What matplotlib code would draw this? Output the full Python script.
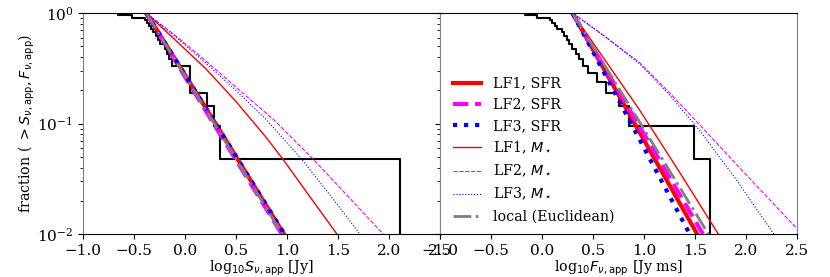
import numpy as np
import matplotlib
matplotlib.use('Agg')
import matplotlib.pyplot as plt

plt.rcParams['font.family'] = 'DejaVu Serif'
plt.rcParams['mathtext.fontset'] = 'dejavusans'
plt.rcParams['font.size'] = 10.3
plt.rcParams['xtick.labelsize'] = 11
plt.rcParams['ytick.labelsize'] = 11

# observed samples (log10 of apparent flux / fluence), 21 bursts each
obs_S = [-0.654, -0.523, -0.39, -0.37, -0.35, -0.33, -0.31, -0.28, -0.265, -0.24,
         -0.20, -0.18, -0.16, -0.13, 0.049, 0.049, 0.049, 0.213, 0.284, 0.343, 2.108]
obs_F = [-0.167, -0.05, 0.08, 0.10, 0.13, 0.15, 0.20, 0.22, 0.25, 0.27,
         0.30, 0.33, 0.36, 0.40, 0.45, 0.54, 0.63, 0.755, 0.85, 1.49, 1.65]

# model curves, left panel: x = log10 S, y = log10 fraction
S_lf1_sfr_x = [-0.38, 0.3, 0.97]
S_lf1_sfr_y = [0.0, -1.0, -2.0]
S_lf2_sfr_x = [-0.38, 0.28, 0.95]
S_lf2_sfr_y = [0.0, -1.0, -2.0]
S_lf3_sfr_x = [-0.38, 0.3, 0.975]
S_lf3_sfr_y = [0.0, -1.0, -2.0]
S_lf1_ms_x = [-0.38, -0.1, 0.2, 0.5, 0.8, 0.96, 1.2, 1.49]
S_lf1_ms_y = [0.0, -0.24, -0.5, -0.8, -1.13, -1.322, -1.63, -2.0]
S_lf2_ms_x = [-0.38, -0.1, 0.2, 0.5, 0.873, 1.258, 1.6, 1.944]
S_lf2_ms_y = [0.0, -0.2, -0.43, -0.67, -0.968, -1.322, -1.66, -2.0]
S_lf3_ms_x = [-0.38, -0.1, 0.2, 0.5, 0.8, 1.144, 1.45, 1.716]
S_lf3_ms_y = [0.0, -0.21, -0.45, -0.70, -0.968, -1.322, -1.68, -2.0]
S_local_x = [-0.38, 0.287, 0.953]
S_local_y = [0.0, -1.0, -2.0]

# model curves, right panel: x = log10 F, y = log10 fraction
F_lf1_sfr_x = [0.3, 0.91, 1.523]
F_lf1_sfr_y = [0.0, -1.0, -2.0]
F_lf2_sfr_x = [0.3, 0.94, 1.58]
F_lf2_sfr_y = [0.0, -1.0, -2.0]
F_lf3_sfr_x = [0.3, 0.875, 1.45]
F_lf3_sfr_y = [0.0, -1.0, -2.0]
F_lf1_ms_x = [0.3, 0.96, 1.35, 1.73]
F_lf1_ms_y = [0.0, -0.88, -1.44, -2.0]
F_lf2_ms_x = [0.3, 0.6, 0.96, 1.25, 1.549, 2.0, 2.5]
F_lf2_ms_y = [0.0, -0.2, -0.45, -0.72, -1.013, -1.46, -1.95]
F_lf3_ms_x = [0.3, 0.6, 0.96, 1.25, 1.549, 1.9, 2.275]
F_lf3_ms_y = [0.0, -0.2, -0.46, -0.74, -1.065, -1.5, -2.0]
F_local_x = [0.3, 0.967, 1.633]
F_local_y = [0.0, -1.0, -2.0]

labels = ['LF1, SFR', 'LF2, SFR', 'LF3, SFR',
          r'LF1, $M_\star$', r'LF2, $M_\star$', r'LF3, $M_\star$',
          'local (Euclidean)']
styles = [dict(color='red', ls='-', lw=3),
          dict(color='magenta', ls='--', lw=3),
          dict(color='blue', ls=':', lw=3),
          dict(color='red', ls='-', lw=1),
          dict(color='magenta', ls='--', lw=0.8),
          dict(color='blue', ls=':', lw=0.8),
          dict(color='gray', ls='-.', lw=2)]


def survival(vals):
    vals = np.sort(vals)
    n = len(vals)
    levels = np.arange(n, -1, -1) / n
    xs = np.repeat(vals, 2)
    ys = np.repeat(levels, 2)[1:-1].copy()
    ys[-1] = 1e-4
    return xs, ys


fig, (ax1, ax2) = plt.subplots(1, 2, figsize=(8.3, 2.77), dpi=100, sharey=True)
fig.subplots_adjust(left=0.1, right=0.96, bottom=0.155, top=0.953, wspace=0)

left_curves = [(S_lf1_sfr_x, S_lf1_sfr_y), (S_lf2_sfr_x, S_lf2_sfr_y), (S_lf3_sfr_x, S_lf3_sfr_y),
               (S_lf1_ms_x, S_lf1_ms_y), (S_lf2_ms_x, S_lf2_ms_y), (S_lf3_ms_x, S_lf3_ms_y),
               (S_local_x, S_local_y)]
right_curves = [(F_lf1_sfr_x, F_lf1_sfr_y), (F_lf2_sfr_x, F_lf2_sfr_y), (F_lf3_sfr_x, F_lf3_sfr_y),
                (F_lf1_ms_x, F_lf1_ms_y), (F_lf2_ms_x, F_lf2_ms_y), (F_lf3_ms_x, F_lf3_ms_y),
                (F_local_x, F_local_y)]

for ax, obs, curves in [(ax1, obs_S, left_curves), (ax2, obs_F, right_curves)]:
    xs, ys = survival(obs)
    ax.plot(xs, ys, color='black', lw=1.5)
    for (cx, cy), lab, st in zip(curves, labels, styles):
        ax.plot(cx, 10 ** np.array(cy), label=lab, **st)
    ax.set_yscale('log')
    ax.set_xlim(-1.0, 2.5)
    ax.set_ylim(1e-2, 1)
    ax.set_xticks(np.arange(-1.0, 2.51, 0.5))
    for side in ['left', 'right']:
        ax.spines[side].set_color('0.5')

ax1.set_xlabel(r'log$_{10}S_{\nu,\mathrm{app}}$ [Jy]', labelpad=1)
ax2.set_xlabel(r'log$_{10}F_{\nu,\mathrm{app}}$ [Jy ms]', labelpad=1)
ax1.set_ylabel(r'fraction ( $> S_{\nu,\mathrm{app}}, F_{\nu,\mathrm{app}}$)')
ax1.yaxis.set_label_coords(-0.13, 0.5)

ax2.legend(loc='center left', bbox_to_anchor=(0.0, 0.38), frameon=False)

fig.savefig('out.png', dpi=100)
